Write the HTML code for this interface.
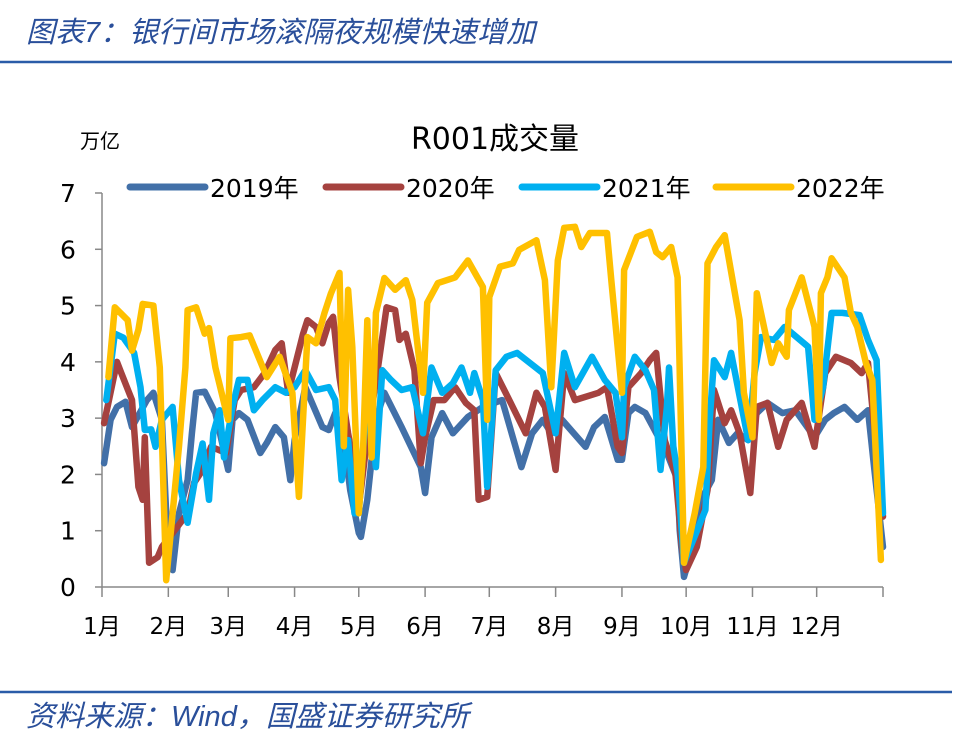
<!DOCTYPE html>
<html><head><meta charset="utf-8">
<style>
body{margin:0;background:#fff;width:960px;height:742px;overflow:hidden;font-family:"DejaVu Sans","Noto Sans CJK SC",sans-serif;}
svg{position:absolute;left:0;top:0}
</style></head>
<body>
<svg width="960" height="742">
<text x="26" y="42" font-size="29" font-style="italic" fill="#2a4f9a" font-family="Liberation Sans, Noto Sans CJK SC, sans-serif">图表7：银行间市场滚隔夜规模快速增加</text>
<line x1="0" y1="62" x2="952" y2="62" stroke="#2a5ca8" stroke-width="2.5"/>
<text x="495" y="149" font-size="30" text-anchor="middle" fill="#000">R001成交量</text>
<text x="80" y="148" font-size="20" fill="#000">万亿</text>
<g id="legend"></g>
<g id="axes"></g>
<g id="series"></g>
<line x1="0" y1="692" x2="952" y2="692" stroke="#2a5ca8" stroke-width="2.5"/>
<text x="26" y="726" font-size="29" font-style="italic" fill="#2a4f9a" font-family="Liberation Sans, Noto Sans CJK SC, sans-serif">资料来源：Wind，国盛证券研究所</text>
</svg>
<script>
const monthLabels=["1月","2月","3月","4月","5月","6月","7月","8月","9月","10月","11月","12月"];
const monthStarts=[0,31,59,90,120,151,181,212,243,273,304,334,365];
const yTicks=[0,1,2,3,4,5,6,7];
const seriesNames=["2019年","2020年","2021年","2022年"];
const seriesColors=["#4270a8","#a5423f","#00b0f0","#ffc000"];
const days2019=[1,4,7,11,14,21,24,28,30,33,36,40,42,44,48,53,59,61,64,68,74,77,81,85,88,90,95,103,106,109,113,116,120,121,124,128,132,140,149,151,154,159,164,171,178,187,196,201,206,210,215,226,230,235,241,243,246,249,254,264,269,270,272,276,280,285,288,293,297,302,306,311,318,324,333,338,342,347,353,358,361,365];
const vals2019=[2.2,2.97,3.2,3.29,2.84,3.32,3.45,2.97,1.31,0.3,1.31,1.9,2.73,3.45,3.47,3.09,2.08,2.97,3.09,2.97,2.38,2.56,2.84,2.66,1.9,2.61,3.55,2.84,2.79,3.09,2.61,1.72,0.96,0.89,1.55,2.97,3.45,2.84,2.13,1.67,2.66,3.09,2.73,3.02,3.2,3.32,2.13,2.73,2.97,2.73,2.97,2.49,2.84,3.02,2.26,2.26,3.09,3.2,3.09,2.38,1.9,1.01,0.18,0.71,1.55,1.9,2.97,2.56,2.73,2.61,3.09,3.27,3.09,3.14,2.66,2.97,3.09,3.2,2.97,3.14,2.08,0.71];
const days2020=[1,7,9,14,17,19,20,22,26,28,34,40,43,47,51,58,62,65,71,76,81,84,87,94,96,100,103,106,108,111,115,119,120,124,129,133,137,139,142,146,149,151,155,160,165,170,174,176,180,184,191,198,203,207,212,216,221,232,236,241,243,246,252,256,259,263,268,271,273,278,283,286,291,294,298,303,306,311,316,320,327,333,338,343,350,355,358,365];
const vals2020=[2.91,4.0,3.8,3.32,1.78,1.55,2.66,0.43,0.53,0.71,1.01,1.31,1.85,2.08,2.49,2.38,3.32,3.5,3.55,3.8,4.21,4.33,3.45,4.5,4.74,4.62,4.33,4.69,4.8,3.73,2.73,1.9,1.42,2.66,3.9,4.97,4.92,4.39,4.5,3.85,2.2,2.66,3.32,3.32,3.55,3.27,3.14,1.55,1.6,3.8,3.27,2.73,3.45,3.2,2.08,3.8,3.32,3.45,3.55,2.49,2.38,3.55,3.8,4.03,4.16,2.61,2.02,0.71,0.3,0.71,1.72,3.5,2.91,3.14,2.73,1.67,3.2,3.27,2.49,2.97,3.27,2.49,3.8,4.09,3.98,3.8,3.98,1.25];
const days2021=[2,6,10,15,18,20,23,25,28,33,36,40,44,47,50,52,55,57,61,64,68,71,75,81,86,90,95,100,106,109,112,115,118,120,124,128,131,135,140,145,150,154,159,164,168,172,174,178,180,184,189,194,206,212,216,221,229,235,240,243,244,249,254,258,261,264,265,267,269,272,282,284,286,291,294,302,305,308,314,319,330,333,337,341,346,354,358,362,365];
const vals2021=[3.32,4.5,4.43,4.16,3.55,2.79,2.8,2.49,2.97,3.2,1.9,1.14,2.02,2.55,1.55,2.73,3.14,2.3,3.2,3.68,3.68,3.14,3.32,3.55,3.45,3.55,3.85,3.5,3.55,3.32,1.9,2.61,1.31,1.31,3.55,2.13,3.85,3.68,3.5,3.55,2.73,3.9,3.45,3.62,3.9,3.45,3.8,3.32,1.78,3.85,4.09,4.16,3.8,2.73,4.16,3.55,4.09,3.68,3.45,2.66,3.55,4.09,3.85,3.5,2.08,3.2,3.9,2.5,2.02,0.43,1.37,2.97,4.03,3.73,4.16,2.61,3.8,4.44,4.39,4.62,4.27,2.97,3.55,4.87,4.87,4.83,4.39,4.03,1.31];
const days2022=[3,6,12,14,17,19,24,27,30,36,39,40,44,48,50,53,59,60,65,69,77,83,89,92,96,100,104,107,111,113,115,117,120,122,124,126,128,132,137,142,145,150,152,157,165,171,178,180,181,186,192,195,203,207,210,213,216,221,224,228,236,238,243,244,250,256,259,262,266,269,272,277,281,283,287,291,298,300,304,306,313,316,320,321,327,333,335,336,339,341,347,350,353,357,360,364];
const vals2022=[3.73,4.97,4.74,4.2,4.57,5.03,5.0,3.9,0.12,2.5,3.9,4.92,4.97,4.5,4.6,3.9,2.97,4.42,4.44,4.47,3.73,4.09,3.45,1.6,4.44,4.33,4.87,5.22,5.58,2.5,5.28,4.27,1.31,2.38,4.74,2.3,4.87,5.49,5.28,5.45,5.1,3.45,5.05,5.4,5.5,5.8,5.33,2.97,5.15,5.69,5.75,5.99,6.16,5.45,3.55,5.8,6.38,6.4,6.04,6.29,6.29,5.45,3.45,5.63,6.22,6.31,5.95,5.86,6.04,5.5,0.43,1.31,2.13,5.75,6.04,6.25,4.74,3.45,2.66,5.22,3.98,4.33,4.09,4.92,5.5,4.62,2.97,5.22,5.5,5.84,5.5,4.87,4.62,3.98,3.68,0.48];

const NS="http://www.w3.org/2000/svg";
const X0=102,X1=883,Y0=587,Y7=193;
function xs(d){return X0+(X1-X0)*d/365;}
function ys(v){return Y0-(Y0-Y7)*v/7;}
function mk(tag,attrs,parent){const e=document.createElementNS(NS,tag);for(const k in attrs)e.setAttribute(k,attrs[k]);parent.appendChild(e);return e;}
const axes=document.getElementById('axes');
let ax=mk('line',{x1:X0,y1:Y7,x2:X0,y2:Y0,stroke:'#888','stroke-width':1.5},axes);


let bx=mk('line',{x1:X0,y1:Y0,x2:X1,y2:Y0,stroke:'#888','stroke-width':1.5},axes);


yTicks.forEach(v=>{
  const t=mk('line',{x1:X0-7,y1:ys(v),x2:X0,y2:ys(v),stroke:'#888','stroke-width':1.5},axes);
  
  
  const l=mk('text',{x:68,y:ys(v)+9,'font-size':25,'text-anchor':'middle',fill:'#000'},axes);
  l.textContent=v;
  
  
});
monthStarts.forEach((d,i)=>{
  const t=mk('line',{x1:xs(d),y1:Y0,x2:xs(d),y2:Y0+10,stroke:'#888','stroke-width':1.5},axes);
  
  
  if(i<monthLabels.length){
    const l=mk('text',{x:xs(d),y:634,'font-size':23,'text-anchor':'middle',fill:'#000'},axes);
    l.textContent=monthLabels[i];
    
    
  }
});
const ser=document.getElementById('series');
const allDays=[days2019,days2020,days2021,days2022];
const allVals=[vals2019,vals2020,vals2021,vals2022];
allDays.forEach((ds,i)=>{
  const pts=ds.map((d,j)=>xs(d).toFixed(1)+','+ys(allVals[i][j]).toFixed(1)).join(' ');
  const p=mk('polyline',{points:pts,fill:'none',stroke:seriesColors[i],'stroke-width':6.5,'stroke-linejoin':'round','stroke-linecap':'round'},ser);
  
  
});
const leg=document.getElementById('legend');
const legX=[130,326,522,716];
seriesNames.forEach((n,i)=>{
  const l=mk('line',{x1:legX[i],y1:187,x2:legX[i]+75,y2:187,stroke:seriesColors[i],'stroke-width':7,'stroke-linecap':'round'},leg);
  
  
  const t=mk('text',{x:legX[i]+80,y:197,'font-size':25,fill:'#000'},leg);
  t.textContent=n;
  
  
});
</script>
</body></html>
